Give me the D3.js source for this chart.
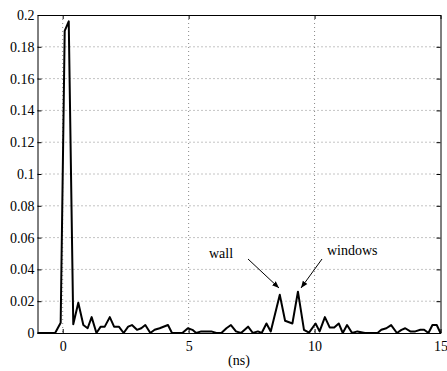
<!DOCTYPE html>
<html>
<head>
<meta charset="utf-8">
<script src="https://cdn.jsdelivr.net/npm/d3@7"></script>
<style>
  body { margin: 0; background: #fff; }
  text { font-family: "Liberation Serif", "Times New Roman", serif; }
</style>
</head>
<body>
<div id="chart-area"></div>
<script>
// data: time (ns) and amplitude
var times = [-1, -0.3, -0.08, 0.08, 0.24, 0.42, 0.62, 0.82, 0.99, 1.15, 1.34, 1.51, 1.67, 1.87,
  2.04, 2.23, 2.42, 2.6, 2.75, 2.95, 3.12, 3.28, 3.48, 3.65, 3.85, 4.18, 4.34, 4.55, 4.75,
  4.97, 5.15, 5.3, 5.5, 5.9, 6.1, 6.3, 6.5, 6.68, 6.88, 7.08, 7.36, 7.55, 7.75, 7.9, 8.09,
  8.26, 8.62, 8.83, 9.12, 9.34, 9.58, 9.78, 10.04, 10.2, 10.41, 10.6, 10.78, 10.96, 11.12,
  11.29, 11.49, 11.7, 12.0, 12.5, 12.65, 12.85, 13.04, 13.27, 13.45, 13.6, 13.8, 14.0, 14.2,
  14.35, 14.52, 14.68, 14.85, 15];
var amplitude = [0, 0, 0.0065, 0.19, 0.196, 0.0055, 0.019, 0.005, 0.003, 0.01, 0, 0.004, 0.004, 0.01,
  0.004, 0.004, 0, 0.004, 0.005, 0.002, 0.003, 0.005, 0, 0.002, 0.003, 0.005, 0, 0, 0,
  0.003, 0.002, 0, 0.001, 0.001, 0, 0, 0.003, 0.005, 0.001, 0, 0.004, 0, 0.001, 0, 0.006,
  0.001, 0.024, 0.0077, 0.006, 0.026, 0.002, 0.0002, 0.006, 0.001, 0.01, 0.0035, 0.0035, 0.006, 0,
  0.005, 0, 0.001, 0, 0, 0.002, 0.003, 0.005, 0, 0.002, 0.003, 0.001, 0.001, 0.002,
  0.002, 0, 0.005, 0.005, 0];
var xTicks = [0, 5, 10, 15];
var yTicks = [0, 0.02, 0.04, 0.06, 0.08, 0.1, 0.12, 0.14, 0.16, 0.18, 0.2];

var margins = { left: 37.5, right: 6.5, top: 15, bottom: 38 };
var width = 447 - margins.left - margins.right;
var height = 371 - margins.top - margins.bottom;

var svg = d3.select("#chart-area").append("svg")
    .attr("width", 447)
    .attr("height", 371);
var g = svg.append("g")
    .attr("transform", "translate(" + margins.left + "," + margins.top + ")");

var x = d3.scaleLinear().domain([-1, 15]).range([0, width]);
var y = d3.scaleLinear().domain([0, 0.2]).range([height, 0]);

var fmt = function(d) { return String(+d.toFixed(2)); };

// dotted grid
g.selectAll(".xgrid").data(xTicks.filter(function(d) { return d > -1 && d < 15; }))
  .enter().append("line")
    .attr("x1", function(d) { return x(d); }).attr("x2", function(d) { return x(d); })
    .attr("y1", 0).attr("y2", height)
    .attr("stroke", "#888").attr("stroke-width", 1)
    .attr("stroke-dasharray", "1,3");
g.selectAll(".ygrid").data(yTicks.filter(function(d) { return d > 0 && d < 0.2; }))
  .enter().append("line")
    .attr("x1", 0).attr("x2", width)
    .attr("y1", function(d) { return y(d); }).attr("y2", function(d) { return y(d); })
    .attr("stroke", "#888").attr("stroke-width", 1)
    .attr("stroke-dasharray", "1,3");

// axes with inward ticks (box style)
var xb = g.append("g").attr("transform", "translate(0," + height + ")")
  .call(d3.axisBottom(x).tickValues(xTicks).tickSizeInner(-4).tickSizeOuter(0).tickPadding(8).tickFormat(fmt));
var xt = g.append("g")
  .call(d3.axisTop(x).tickValues(xTicks).tickSizeInner(-4).tickSizeOuter(0).tickFormat(""));
var yl = g.append("g")
  .call(d3.axisLeft(y).tickValues(yTicks).tickSizeInner(-4).tickSizeOuter(0).tickPadding(3).tickFormat(fmt));
var yr = g.append("g").attr("transform", "translate(" + width + ",0)")
  .call(d3.axisRight(y).tickValues(yTicks).tickSizeInner(-4).tickSizeOuter(0).tickFormat(""));

[xb, xt, yl, yr].forEach(function(a) {
  a.select(".domain").attr("stroke", "#000");
  a.selectAll(".tick line").attr("stroke", "#000");
  a.selectAll("text").attr("font-family", "Liberation Serif").attr("font-size", "14px").attr("fill", "#000");
});

// signal
g.append("path")
  .datum(d3.zip(times, amplitude))
  .attr("fill", "none")
  .attr("stroke", "#000")
  .attr("stroke-width", 2)
  .attr("stroke-linejoin", "round")
  .attr("d", d3.line()
    .x(function(d) { return x(d[0]); })
    .y(function(d) { return y(d[1]); }));

// x label
g.append("text")
  .attr("x", x(7))
  .attr("y", height + 32)
  .attr("font-size", "14px")
  .attr("text-anchor", "middle")
  .text("(ns)");

// annotations
svg.append("defs").append("marker")
  .attr("id", "arr")
  .attr("viewBox", "0 0 10 10")
  .attr("refX", 10).attr("refY", 5)
  .attr("markerWidth", 7).attr("markerHeight", 7)
  .attr("markerUnits", "userSpaceOnUse")
  .attr("orient", "auto")
  .append("path").attr("d", "M0,1 L10,5 L0,9 Z").attr("fill", "#000");

svg.append("text").attr("x", 209).attr("y", 258).attr("font-size", "14px").text("wall");
svg.append("text").attr("x", 327).attr("y", 255).attr("font-size", "14px").text("windows");

svg.append("line").attr("x1", 248).attr("y1", 259).attr("x2", 279).attr("y2", 288)
  .attr("stroke", "#000").attr("stroke-width", 1).attr("marker-end", "url(#arr)");
svg.append("line").attr("x1", 322).attr("y1", 259).attr("x2", 301).attr("y2", 288)
  .attr("stroke", "#000").attr("stroke-width", 1).attr("marker-end", "url(#arr)");
</script>
</body>
</html>
